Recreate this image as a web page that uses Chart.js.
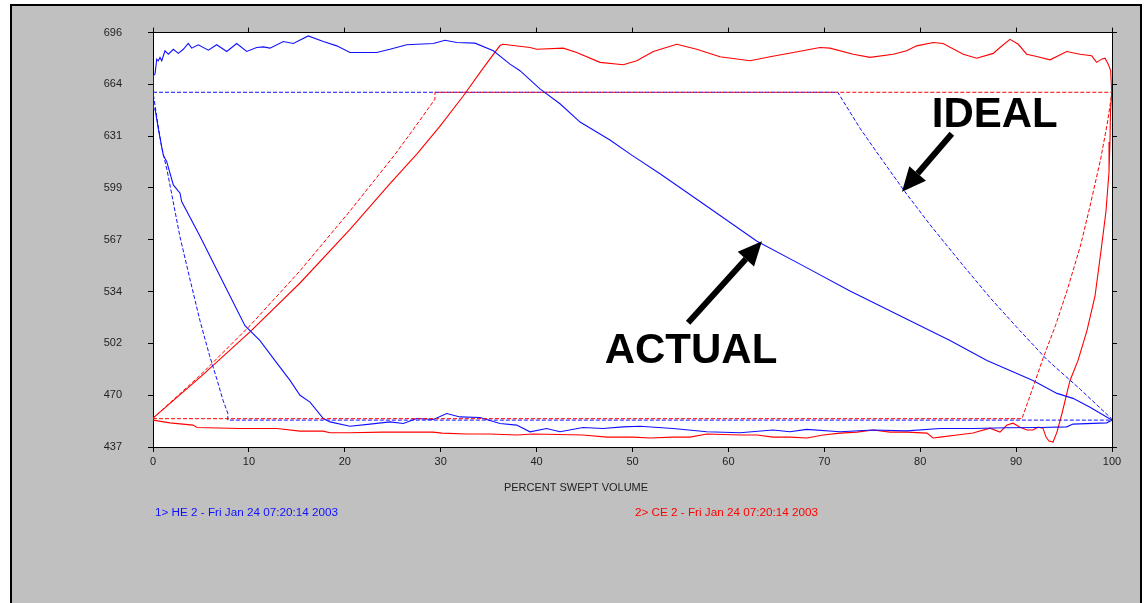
<!DOCTYPE html>
<html>
<head>
<meta charset="utf-8">
<script src="https://cdn.jsdelivr.net/npm/chart.js@4.4.1/dist/chart.umd.min.js"></script>
<style>
  html, body { margin:0; padding:0; background:#fff; }
  #frame { position:absolute; left:10px; top:4px; width:1132px; height:620px; box-sizing:border-box;
           border:2px solid #000; background:#c0c0c0; }
  #c { position:absolute; left:0; top:0; }
</style>
</head>
<body>
<div id="frame"></div>
<canvas id="c" width="1147" height="603"></canvas>
<script>
// ---------- DATA ----------
const xTickValues = [0,10,20,30,40,50,60,70,80,90,100];
const yMin = 437, yMax = 696;
const yTickLabels = ['437','470','502','534','567','599','631','664','696'];

const xAxisTitle = 'PERCENT SWEPT VOLUME';
const heLabel = '1> HE 2 - Fri Jan 24 07:20:14 2003';
const ceLabel = '2> CE 2 - Fri Jan 24 07:20:14 2003';

// HE (blue) measured loop
const heActualX = [0,0.03,0.21,0.39,0.55,0.73,0.91,1.25,1.6,2.12,2.64,3.16,3.68,4.04,4.72,5.77,6.64,7.69,8.73,9.77,
  10.81,11.5,12.2,13.59,14.63,16.19,17.76,19.16,20.54,23.33,24.71,26.45,29.23,30.45,31.67,33.58,35.49,37.23,38.27,40.35,
  42.44,44.53,47.65,49.92,52.87,57.04,62.98,67.47,72.68,77.89,83.11,86.96,91.76,94.26,95.93,97.71,99.48,100,
  99.45,95.93,95.28,92.49,89.02,85.51,82.07,78.59,75.08,71.64,68.16,66.42,64.65,61.21,57.74,54.22,50.78,49.01,46.92,44.84,
  42.44,41.05,39.31,37.92,36.18,34.1,32.01,30.63,29.23,27.5,26.1,24.71,22.63,20.54,18.46,17.76,16.37,15.33,14.29,12.72,
  11.16,9.59,8.03,6.47,4.9,2.99,2.82,2.12,1.43,1.07,0.55,0.21,0];
const heActualY = [648.2,669.1,670.1,679.4,678.4,680.5,678.4,684.6,682.5,685.6,683.0,685.6,689.2,686.3,688.4,685.0,688.4,684.2,689.2,684.2,
  686.7,687.1,686.3,690.4,689.2,693.9,690.4,687.7,683.6,683.6,685.6,688.4,689.2,691.2,689.8,689.4,684.6,676.3,672.2,660.8,
  651.5,640.1,628.9,619.4,607.8,590.4,565.6,551.3,534.5,519.0,503.5,491.0,478.6,470.5,467.4,461.8,455.6,453.8,
  452.1,451.3,449.6,449.2,449.0,448.6,448.6,447.1,447.6,446.5,448.0,446.5,447.6,445.9,446.5,448.6,450.0,449.6,448.6,449.2,
  446.5,448.6,446.5,450.7,451.7,455.4,455.8,457.9,454.2,454.8,451.7,452.7,451.3,450.0,452.7,454.8,465.1,469.3,478.6,491.0,
  503.5,512.8,531.4,550.0,568.7,590.4,595.6,600.8,615.3,619.4,635.9,648.4,648.2];

// HE (blue) ideal loop
const heIdealX = [0,71.4,73.7,75.8,78.4,81.0,84.2,87.3,90.4,93.2,96.7,99.9,100,7.8,7.8,7.3,6.7,5.9,4.9,3.9,2.8,2.1,1.5,0.9,0.4,0];
const heIdealY = [658.7,658.7,636.4,618.4,596.6,576.1,552.5,530.2,509.7,491.7,473.0,455.0,453.8,453.8,458.1,466.2,478.6,494.1,515.9,540.7,568.7,590.4,609.0,624.6,643.2,658.7];

// CE (red) measured loop
const ceActualX = [0,4.9,10.11,15.33,20.54,24.71,27.53,29.93,32.33,34.41,36.18,36.5,39.31,40.01,42.78,44.18,46.61,49.04,50.44,52.17,
  54.61,56.7,59.12,62.25,64.34,66.77,69.55,70.59,73.02,74.77,77.19,78.59,79.63,81.37,82.38,84.49,85.89,87.62,88.32,89.36,
  90.23,91.1,92.15,93.54,95.28,96.66,97.88,98.4,98.92,99.27,99.61,99.86,99.97,99.84,99.79,99.69,99.37,98.85,98.23,97.39,96.45,95.62,
  94.79,94.26,93.85,93.43,93.12,92.8,92.28,91.76,91.14,90.41,89.68,89.05,88.32,87.28,85.51,83.84,82.07,81.33,80.71,
  78.62,76.85,75.08,73.41,71.64,69.86,68.2,66.42,64.65,62.98,61.21,57.77,56,54.22,51.83,50.05,47.34,44.84,39.62,37.96,
  35.14,32.74,30.14,29.2,23.98,20.54,18.46,17.73,15.33,12.93,9.07,4.59,4.17,1.77,0];
const ceActualY = [455.0,480.5,509.0,539.5,573.0,601.6,620.2,637.6,656.2,673.6,687.9,688.7,686.7,685.6,686.3,683.6,677.4,675.9,678.4,684.2,
  688.7,685.6,680.9,678.4,680.9,683.6,686.7,686.3,682.5,680.5,682.5,684.6,687.7,689.8,689.2,682.5,680.0,683.0,686.7,691.8,
  688.7,682.5,681.1,679.0,684.2,682.5,681.5,677.4,679.4,680.0,676.3,672.2,658.7,646.3,627.7,609.0,584.2,559.4,531.4,509.7,491.0,478.6,
  458.1,446.3,440.1,440.7,443.2,448.8,449.4,447.6,447.6,449.4,451.9,450.7,446.3,448.8,445.7,444.5,443.2,442.6,445.7,
  446.3,446.3,447.6,446.3,445.7,444.5,442.6,443.2,443.2,444.5,444.5,445.1,443.2,443.2,442.6,443.2,443.2,444.5,445.1,444.5,
  445.1,445.1,445.7,446.3,446.3,445.9,445.9,446.9,446.9,448.6,448.6,449.2,450.7,452.1,453.8];

// CE (red) ideal loop
const ceIdealX = [0,90.6,90.7,91.8,92.8,94.1,95.3,96.7,97.7,98.8,99.5,100,29.4,29.4,27.1,25.2,20.5,15.3,10.1,4.9,0];
const ceIdealY = [454.7,454.7,456.3,474.9,492.3,512.8,534.5,562.5,587.3,616.5,638.9,658.7,658.7,654.4,635.1,619.6,584.2,546.9,512.8,481.7,455.0];

// annotations (data coordinates)
const noteTexts = [
  {text:'IDEAL', x:81.2, y:637.0},
  {text:'ACTUAL', x:47.1, y:489.2}
];
const noteArrows = [
  {fromX:83.3, fromY:632.8, toX:78.1, toY:596.6},
  {fromX:55.8, fromY:514.6, toX:63.5, toY:565.6}
];

// ---------- BUILD ----------
const pts = (xs, ys) => xs.map((x, i) => ({x: x, y: ys[i]}));
const BLUE = '#1010ff', RED = '#ff0000';
const FONT = '"Liberation Sans", Arial, sans-serif';

const decor = {
  id: 'decor',
  beforeDraw(chart) {
    const {ctx, chartArea: a} = chart;
    ctx.save();
    ctx.fillStyle = '#ffffff';
    ctx.fillRect(a.left, a.top, a.right - a.left, a.bottom - a.top);
    ctx.restore();
  },
  afterDraw(chart) {
    const {ctx} = chart;
    const xs = chart.scales.x, ys = chart.scales.y;
    ctx.save();
    // axis title + legend text
    ctx.font = '11px ' + FONT;
    ctx.textBaseline = 'middle';
    ctx.fillStyle = '#222';
    ctx.textAlign = 'center';
    ctx.fillText(xAxisTitle, 576, 488);
    ctx.textAlign = 'left';
    ctx.font = '11.7px ' + FONT;
    ctx.fillStyle = BLUE;
    ctx.fillText(heLabel, 155, 513);
    ctx.fillStyle = RED;
    ctx.fillText(ceLabel, 635, 513);
    // big annotation texts
    ctx.fillStyle = '#000';
    ctx.font = 'bold 42px ' + FONT;
    ctx.textBaseline = 'alphabetic';
    noteTexts.forEach(n => ctx.fillText(n.text, xs.getPixelForValue(n.x), ys.getPixelForValue(n.y)));
    // arrows
    noteArrows.forEach(a => {
      const x1 = xs.getPixelForValue(a.fromX), y1 = ys.getPixelForValue(a.fromY);
      const x2 = xs.getPixelForValue(a.toX), y2 = ys.getPixelForValue(a.toY);
      const ang = Math.atan2(y2 - y1, x2 - x1);
      const hl = 24, hw = 11;
      const bx = x2 - hl * Math.cos(ang), by = y2 - hl * Math.sin(ang);
      ctx.strokeStyle = '#000';
      ctx.lineWidth = 6;
      ctx.lineCap = 'butt';
      ctx.beginPath(); ctx.moveTo(x1, y1); ctx.lineTo(bx, by); ctx.stroke();
      ctx.beginPath();
      ctx.moveTo(x2, y2);
      ctx.lineTo(bx + hw * Math.sin(ang), by - hw * Math.cos(ang));
      ctx.lineTo(bx - hw * Math.sin(ang), by + hw * Math.cos(ang));
      ctx.closePath();
      ctx.fill();
    });
    ctx.restore();
  }
};

const yTicksFromLabels = (scale) => {
  scale.ticks = yTickLabels.map((l, i) => ({value: yMin + i * (yMax - yMin) / (yTickLabels.length - 1)}));
};
const gridOpts = {drawOnChartArea: false, drawTicks: true, tickLength: 5, color: '#000', lineWidth: 1};
const borderOpts = {display: true, color: '#000', width: 1};

new Chart(document.getElementById('c'), {
  type: 'scatter',
  data: {
    datasets: [
      {label: 'CE ideal', data: pts(ceIdealX, ceIdealY), borderColor: RED, borderWidth: 1, borderDash: [4, 2], showLine: true, pointRadius: 0},
      {label: 'HE ideal', data: pts(heIdealX, heIdealY), borderColor: BLUE, borderWidth: 1, borderDash: [4, 2], showLine: true, pointRadius: 0},
      {label: 'HE', data: pts(heActualX, heActualY), borderColor: BLUE, borderWidth: 1.1, showLine: true, pointRadius: 0},
      {label: 'CE', data: pts(ceActualX, ceActualY), borderColor: RED, borderWidth: 1.1, showLine: true, pointRadius: 0}
    ]
  },
  options: {
    responsive: false,
    animation: false,
    devicePixelRatio: 1,
    layout: {padding: 0},
    plugins: {legend: {display: false}, tooltip: {enabled: false}},
    scales: {
      x: {
        type: 'linear', position: 'bottom', min: 0, max: 100,
        afterBuildTicks: s => { s.ticks = xTickValues.map(v => ({value: v})); },
        afterFit: s => { s.height = 156; },
        ticks: {color: '#222', font: {size: 11, family: FONT}, padding: 3, maxRotation: 0},
        grid: gridOpts, border: borderOpts
      },
      x2: {
        type: 'linear', position: 'top', min: 0, max: 100,
        afterBuildTicks: s => { s.ticks = xTickValues.map(v => ({value: v})); },
        afterFit: s => { s.height = 30; },
        ticks: {display: false},
        grid: gridOpts, border: borderOpts
      },
      y: {
        type: 'linear', position: 'left', min: yMin, max: yMax,
        afterBuildTicks: yTicksFromLabels,
        afterFit: s => { s.width = 153; },
        ticks: {color: '#222', font: {size: 11, family: FONT}, padding: 26, callback: (v, i) => yTickLabels[i]},
        grid: gridOpts, border: borderOpts
      },
      y2: {
        type: 'linear', position: 'right', min: yMin, max: yMax,
        afterBuildTicks: yTicksFromLabels,
        afterFit: s => { s.width = 35; },
        ticks: {display: false},
        grid: gridOpts, border: borderOpts
      }
    }
  },
  plugins: [decor]
});
</script>
</body>
</html>
